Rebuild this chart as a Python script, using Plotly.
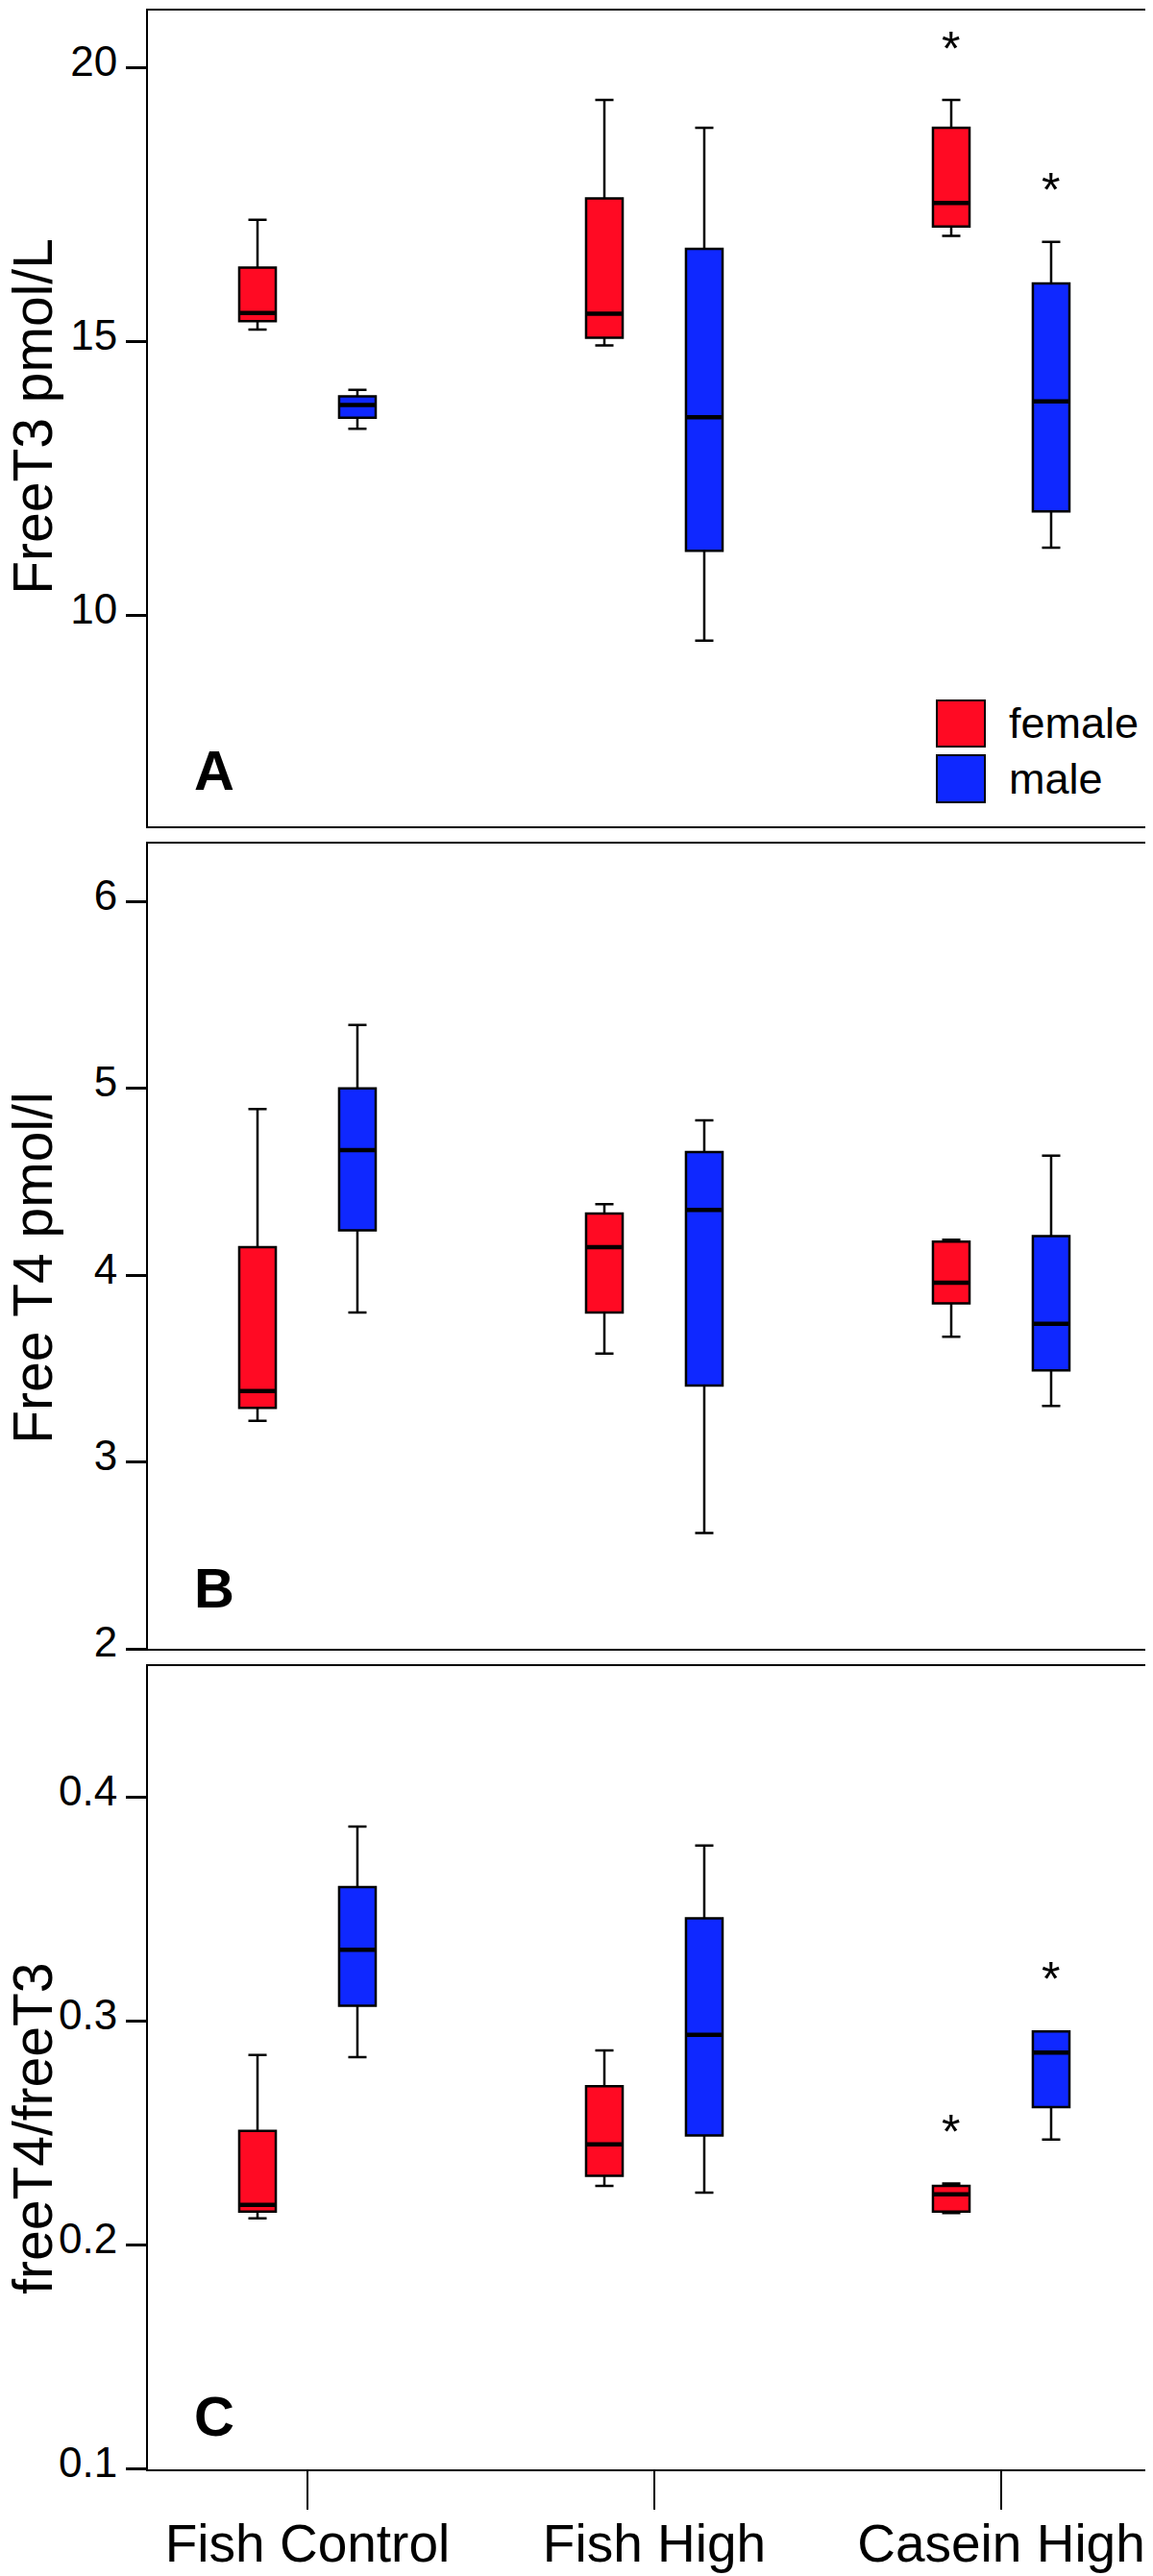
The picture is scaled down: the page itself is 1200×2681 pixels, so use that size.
import plotly.graph_objects as go

# ---------------- data ----------------
categories = ["Fish Control", "Fish High", "Casein High"]

# Panel A: FreeT3 pmol/L
a_female_low = [15.22, 14.93, 16.93]
a_female_q1 = [15.37, 15.07, 17.10]
a_female_med = [15.52, 15.51, 17.53]
a_female_q3 = [16.35, 17.61, 18.90]
a_female_high = [17.22, 19.41, 19.41]

a_male_low = [13.41, 9.54, 11.24]
a_male_q1 = [13.61, 11.18, 11.90]
a_male_med = [13.84, 13.62, 13.91]
a_male_q3 = [14.00, 16.69, 16.06]
a_male_high = [14.12, 18.90, 16.82]

# Panel B: Free T4 pmol/l
b_female_low = [3.22, 3.58, 3.67]
b_female_q1 = [3.29, 3.80, 3.85]
b_female_med = [3.38, 4.15, 3.96]
b_female_q3 = [4.15, 4.33, 4.18]
b_female_high = [4.89, 4.38, 4.19]

b_male_low = [3.80, 2.62, 3.30]
b_male_q1 = [4.24, 3.41, 3.49]
b_male_med = [4.67, 4.35, 3.74]
b_male_q3 = [5.00, 4.66, 4.21]
b_male_high = [5.34, 4.83, 4.64]

# Panel C: freeT4/freeT3
c_female_low = [0.212, 0.2265, 0.2144]
c_female_q1 = [0.215, 0.231, 0.215]
c_female_med = [0.218, 0.245, 0.2227]
c_female_q3 = [0.251, 0.271, 0.2265]
c_female_high = [0.285, 0.287, 0.2276]

c_male_low = [0.284, 0.2235, 0.2472]
c_male_q1 = [0.307, 0.249, 0.2617]
c_male_med = [0.332, 0.294, 0.286]
c_male_q3 = [0.360, 0.346, 0.2955]
c_male_high = [0.387, 0.3785, 0.2955]

# significance stars: (panel, category, sex, y value)
star_panels = ["A", "A", "C", "C"]
star_cats = ["Casein High", "Casein High", "Casein High", "Casein High"]
star_sex = ["female", "male", "female", "male"]
star_y = [20.36, 17.78, 0.251, 0.3194]

y_titles = ["FreeT3 pmol/L", "Free T4 pmol/l", "freeT4/freeT3"]
panel_letters = ["A", "B", "C"]
a_ticks = [10, 15, 20]
b_ticks = [2, 3, 4, 5, 6]
c_ticks = [0.1, 0.2, 0.3, 0.4]
c_ticktext = ["0.1", "0.2", "0.3", "0.4"]

# ---------------- style ----------------
RED = "#FF0A23"
BLUE = "#0F28FF"
FONT = "Arial, 'Liberation Sans', sans-serif"
W, H = 1200, 2681

def py(px):
    return 1 - px / H

def px_x(px):
    return px / W

panels = [
    dict(f=(a_female_low, a_female_q1, a_female_med, a_female_q3, a_female_high),
         m=(a_male_low, a_male_q1, a_male_med, a_male_q3, a_male_high)),
    dict(f=(b_female_low, b_female_q1, b_female_med, b_female_q3, b_female_high),
         m=(b_male_low, b_male_q1, b_male_med, b_male_q3, b_male_high)),
    dict(f=(c_female_low, c_female_q1, c_female_med, c_female_q3, c_female_high),
         m=(c_male_low, c_male_q1, c_male_med, c_male_q3, c_male_high)),
]

fig = go.Figure()
for i, p in enumerate(panels):
    xa = "x" if i == 0 else f"x{i+1}"
    ya = "y" if i == 0 else f"y{i+1}"
    for sex, color in (("f", RED), ("m", BLUE)):
        lo, q1, med, q3, hi = p[sex]
        fig.add_trace(go.Box(
            x=categories, q1=q1, median=med, q3=q3, lowerfence=lo, upperfence=hi,
            fillcolor=color, line=dict(color="black", width=2.5), whiskerwidth=0.5,
            boxpoints=False, offsetgroup=sex, alignmentgroup="g",
            xaxis=xa, yaxis=ya, showlegend=False, hoverinfo="skip"))
    for sex in ("f", "m"):
        lo, q1, med, q3, hi = p[sex]
        fig.add_trace(go.Box(
            x=categories, q1=med, median=med, q3=med, lowerfence=med, upperfence=med,
            fillcolor="rgba(0,0,0,0)", line=dict(color="black", width=4.5), whiskerwidth=0,
            boxpoints=False, offsetgroup=sex, alignmentgroup="g",
            xaxis=xa, yaxis=ya, showlegend=False, hoverinfo="skip"))

# domains (pixels)
x_dom = [px_x(146), px_x(1195)]
y_doms = [(852, 3.3), (1708, 870), (2561.7, 1725.7)]
y_ranges = [[6.153, 21.035], [2.0, 6.311], [0.1, 0.4588]]
y_tickvals = [a_ticks, b_ticks, c_ticks]
y_ticktext = [[str(v) for v in a_ticks], [str(v) for v in b_ticks], c_ticktext]
x_range = [-0.4598, 2.446]

layout = dict(
    width=W, height=H, margin=dict(l=0, r=0, t=0, b=0),
    template="none", paper_bgcolor="white", plot_bgcolor="white",
    boxmode="group", boxgap=0.424, boxgroupgap=0.634,
    font=dict(family=FONT, color="black"),
    showlegend=False,
)
for i in range(3):
    xk = "xaxis" if i == 0 else f"xaxis{i+1}"
    yk = "yaxis" if i == 0 else f"yaxis{i+1}"
    ya = "y" if i == 0 else f"y{i+1}"
    xa = "x" if i == 0 else f"x{i+1}"
    last = i == 2
    layout[xk] = dict(
        domain=x_dom, anchor=ya, type="category", categoryorder="array",
        categoryarray=categories, range=x_range, showline=True, linecolor="black",
        linewidth=2, mirror=True, showgrid=False, zeroline=False,
        ticks="outside" if last else "", ticklen=40, tickwidth=2, tickcolor="black",
        showticklabels=last, tickfont=dict(size=55, family=FONT, color="black"),
        automargin=False, ticklabelstandoff=-12,
    )
    b, t = y_doms[i]
    layout[yk] = dict(
        domain=[py(b), py(t)], anchor=xa, range=y_ranges[i],
        tickmode="array", tickvals=y_tickvals[i], ticktext=y_ticktext[i],
        ticks="outside", ticklen=21, tickwidth=2.5, tickcolor="black",
        showline=True, linecolor="black", linewidth=2, mirror=True,
        showgrid=False, zeroline=False, automargin=False,
        tickfont=dict(size=44, family=FONT, color="black"), ticklabelshift=-7,
    )
fig.update_layout(**layout)

# y-axis titles
title_centers = [425, 1312, 2207]
for t, c in zip(y_titles, title_centers):
    fig.add_annotation(text=t, xref="paper", yref="paper", x=-0.006, y=py(c),
                       textangle=-90, showarrow=False, xanchor="left", yanchor="middle",
                       borderpad=0, font=dict(size=57, family=FONT, color="black"))

# panel letters
letter_baselines = [816, 1667, 2529]
for L, bl in zip(panel_letters, letter_baselines):
    fig.add_annotation(text=f"<b>{L}</b>", xref="paper", yref="paper", x=px_x(192),
                       y=py(bl + 12), xanchor="left", yanchor="bottom", showarrow=False,
                       font=dict(size=58, family=FONT, color="black"))

# stars
for pnl, cat, sx, yv in zip(star_panels, star_cats, star_sex, star_y):
    idx = panel_letters.index(pnl)
    xa = "x" if idx == 0 else f"x{idx+1}"
    ya = "y" if idx == 0 else f"y{idx+1}"
    fig.add_annotation(text="*", x=cat, y=yv, xref=xa, yref=ya,
                       xshift=-52 if sx == "female" else 52, yshift=-1,
                       showarrow=False, xanchor="center", yanchor="middle",
                       font=dict(size=50, family=FONT, color="black"))

# legend (inside panel A)
legend_items = [("female", RED, 721, 769), ("male", BLUE, 778, 827)]
for name, col, top, bot in legend_items:
    fig.add_shape(type="rect", xref="paper", yref="paper",
                  x0=px_x(967), x1=px_x(1017), y0=py(bot), y1=py(top),
                  fillcolor=col, line=dict(color="black", width=2))
    fig.add_annotation(text=name, xref="paper", yref="paper", x=px_x(1040),
                       y=py((top + bot) / 2), xanchor="left", yanchor="middle",
                       showarrow=False, font=dict(size=45, family=FONT, color="black"))

fig.write_html("out.html")
